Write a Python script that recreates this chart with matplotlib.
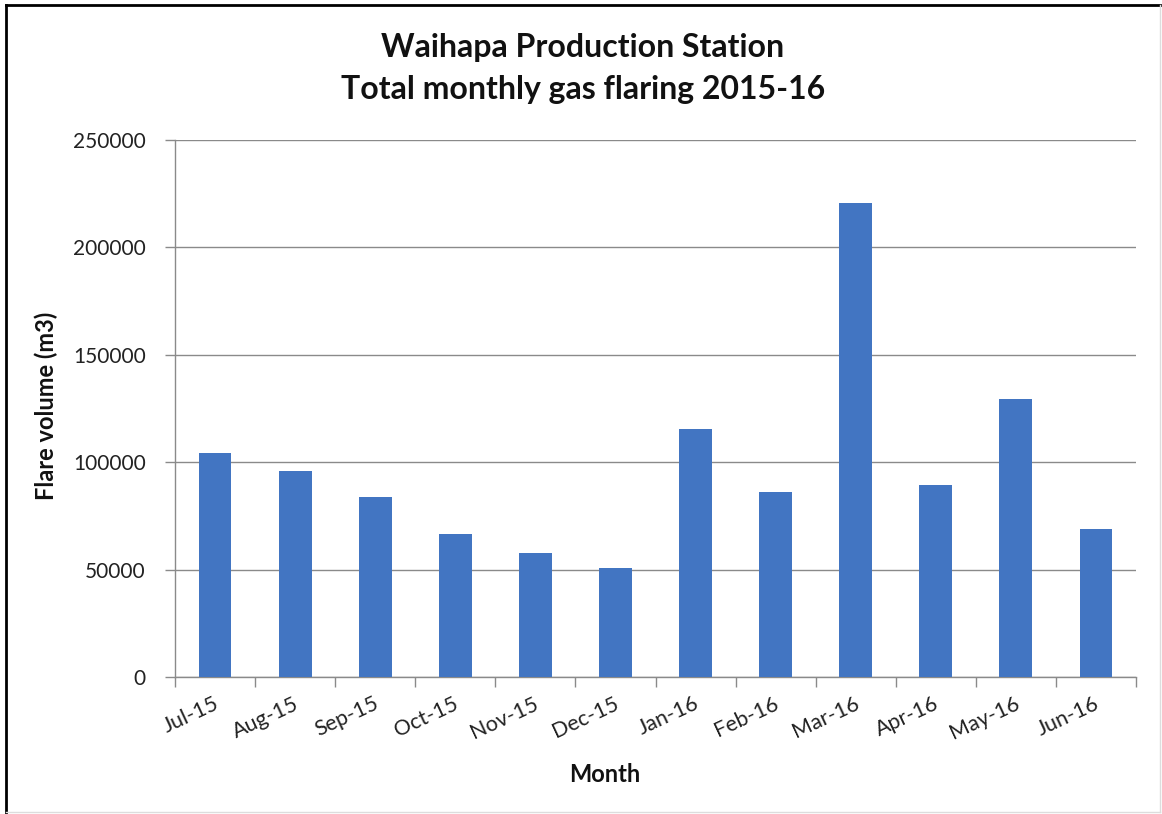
import matplotlib
matplotlib.use("Agg")
import matplotlib.pyplot as plt
from matplotlib.lines import Line2D
import matplotlib.transforms as mtrans
import numpy as np

months = ["Jul-15", "Aug-15", "Sep-15", "Oct-15", "Nov-15", "Dec-15",
          "Jan-16", "Feb-16", "Mar-16", "Apr-16", "May-16", "Jun-16"]
flare_volume = [104400, 96000, 83600, 66800, 57700, 50700,
                115600, 86000, 220800, 89200, 129500, 68700]
y_ticks = [0, 50000, 100000, 150000, 200000, 250000]

W, H = 1162, 814
fig = plt.figure(figsize=(W / 100, H / 100), dpi=100)
fig.patch.set_facecolor("white")

left, right, top, bottom = 175, 1136, 140, 677
ax = fig.add_axes([left / W, 1 - bottom / H, (right - left) / W, (bottom - top) / H])

x = np.arange(len(months))
ax.bar(x, flare_volume, width=0.41, color="#4275C2", zorder=3)

ax.set_xlim(-0.5, len(months) - 0.5)
ax.set_ylim(0, 250000)
ax.set_yticks(y_ticks)
ax.set_yticklabels([str(v) for v in y_ticks], fontsize=15, family="Lato", color="#222222")
ax.yaxis.grid(True, color="#8a8a8a", linewidth=1.0, zorder=0)

ax.set_xticks(np.arange(-0.5, len(months), 1.0))
ax.set_xticklabels([])
ax.set_xticks(x, minor=True)
ax.set_xticklabels(months, minor=True, rotation=25, ha="right", va="top",
                   rotation_mode="anchor", fontsize=15.5, family="Lato", color="#222222")
ax.tick_params(axis="x", which="minor", length=0, pad=12)
ax.tick_params(axis="x", which="major", length=7, color="#8a8a8a", width=1)
ax.tick_params(axis="y", length=7, color="#8a8a8a", width=1, pad=14)

for s in ["top", "right"]:
    ax.spines[s].set_visible(False)
for s in ["left", "bottom"]:
    ax.spines[s].set_color("#8a8a8a")
    ax.spines[s].set_linewidth(1.0)

offset = mtrans.ScaledTranslation(-2 / 100, 0, fig.dpi_scale_trans)
for lbl in ax.get_xticklabels(minor=True):
    lbl.set_transform(lbl.get_transform() + offset)

fig.text(583 / W, 1 - 47 / H, "Waihapa Production Station", ha="center", va="center",
         fontsize=23, fontweight="bold", family="Lato", color="#111111")
fig.text(583 / W, 1 - 89 / H, "Total monthly gas flaring 2015-16", ha="center", va="center",
         fontsize=23, fontweight="bold", family="Lato", color="#111111")

fig.text(46 / W, 1 - 406 / H, "Flare volume (m3)", ha="center", va="center", rotation=90,
         fontsize=17, fontweight="bold", family="Lato", color="#111111")
fig.text(605 / W, 1 - 775 / H, "Month", ha="center", va="center",
         fontsize=17, fontweight="bold", family="Lato", color="#111111")

# chart border
fig.add_artist(Line2D([6 / W, 6 / W], [0, 1 - 5 / H], transform=fig.transFigure,
                      color="black", linewidth=2))
fig.add_artist(Line2D([6 / W, 1160 / W], [1 - 5 / H, 1 - 5 / H], transform=fig.transFigure,
                      color="black", linewidth=2))
fig.add_artist(Line2D([1160 / W, 1160 / W], [1 - 5 / H, 1 - 812 / H], transform=fig.transFigure,
                      color="#dddddd", linewidth=1))
fig.add_artist(Line2D([6 / W, 1160 / W], [1 - 812 / H, 1 - 812 / H], transform=fig.transFigure,
                      color="#dddddd", linewidth=1))

fig.savefig("out.png", dpi=100, facecolor="white")
